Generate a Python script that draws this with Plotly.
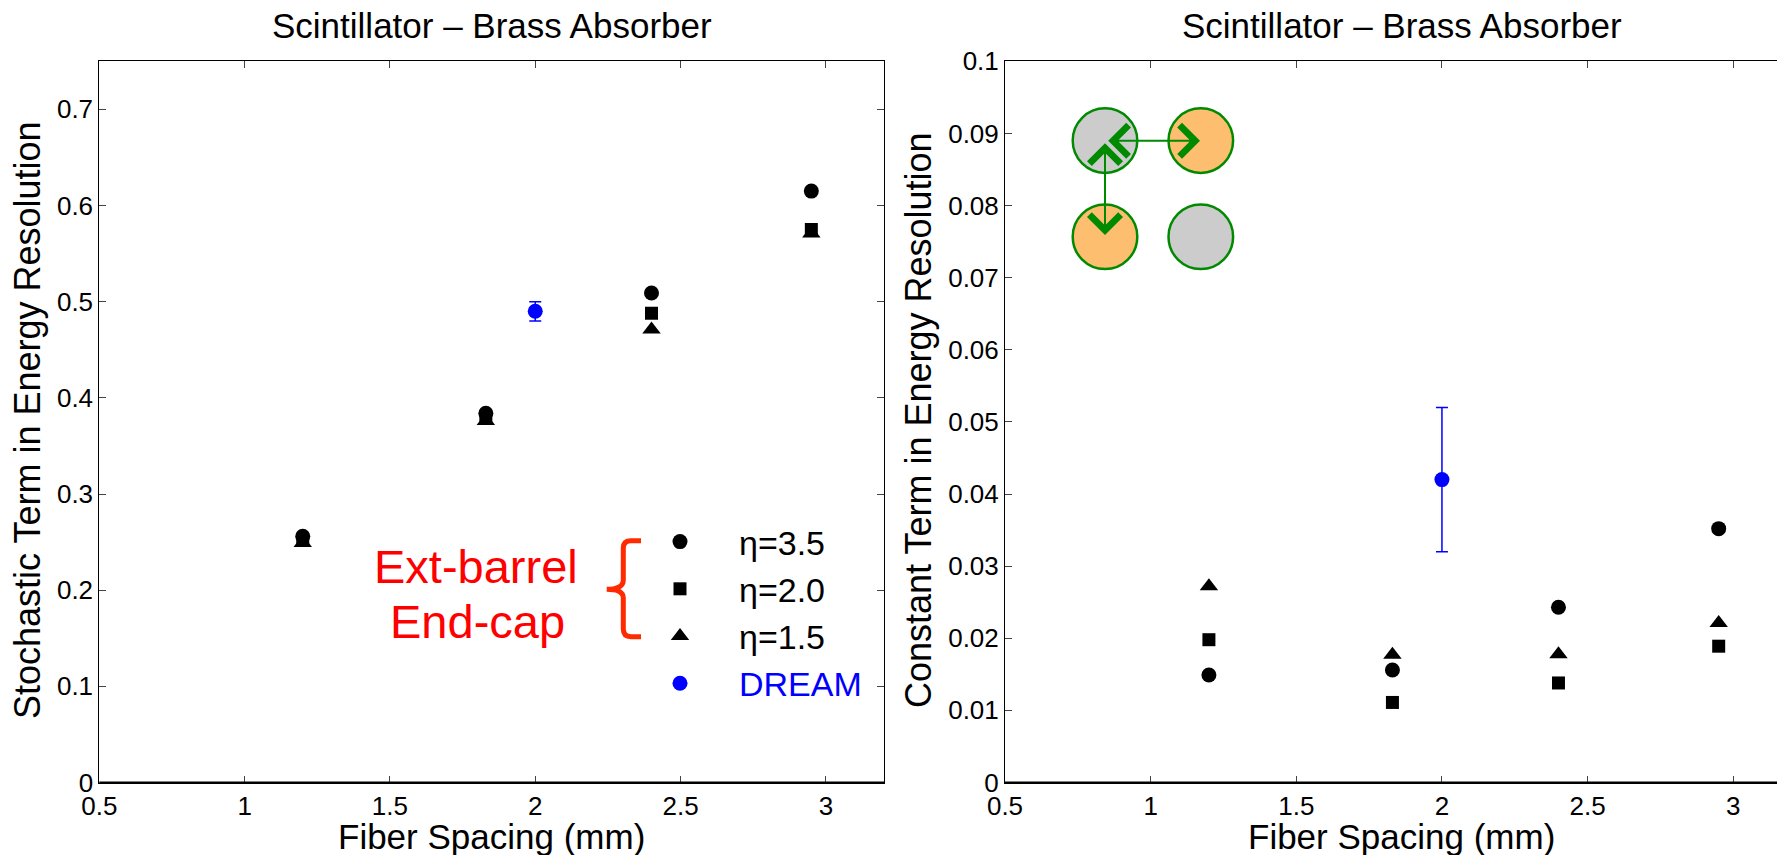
import plotly.graph_objects as go

# ---------------- data ----------------
spacing = [1.2, 1.83, 2.4, 2.95]
series_names = ["η=3.5", "η=2.0", "η=1.5"]
series_symbols = ["circle", "square", "triangle-up"]
series_sizes = [15, 13, 16]

stoch_eta35 = [0.256, 0.384, 0.509, 0.615]
stoch_eta20 = [0.252, 0.380, 0.488, 0.575]
stoch_eta15 = [0.249, 0.376, 0.471, 0.571]

const_eta35 = [0.0149, 0.0156, 0.0243, 0.0352]
const_eta20 = [0.0198, 0.0111, 0.0138, 0.0189]
const_eta15 = [0.0272, 0.0177, 0.0178, 0.0221]

dream_spacing = [2.0]
dream_stoch = [0.49]
dream_stoch_err = [0.01]
dream_const = [0.042]
dream_const_err = [0.010]

x_ticks = [0.5, 1, 1.5, 2, 2.5, 3]
stoch_ticks = [0, 0.1, 0.2, 0.3, 0.4, 0.5, 0.6, 0.7]
const_ticks = [0, 0.01, 0.02, 0.03, 0.04, 0.05, 0.06, 0.07, 0.08, 0.09, 0.1]

FONT = "Liberation Sans, Arial, Helvetica, sans-serif"
# the page body has an 8px margin, so the figure is drawn 8px in from the corner
OFF = 8
W, H = 1785 - OFF, 855 - OFF

fig = go.Figure()

stoch = [stoch_eta35, stoch_eta20, stoch_eta15]
const = [const_eta35, const_eta20, const_eta15]
for name, sym, sz, ys in zip(series_names, series_symbols, series_sizes, stoch):
    fig.add_trace(go.Scatter(x=spacing, y=ys, mode="markers", name=name,
                             marker=dict(symbol=sym, size=sz, color="black"),
                             xaxis="x", yaxis="y", showlegend=True))
fig.add_trace(go.Scatter(x=dream_spacing, y=dream_stoch, mode="markers",
                         name='<span style="color:#0000ff">DREAM</span>',
                         marker=dict(symbol="circle", size=15, color="#0000ff"),
                         error_y=dict(type="data", array=dream_stoch_err, color="#0000ff",
                                      thickness=1.5, width=6),
                         xaxis="x", yaxis="y", showlegend=True))
for name, sym, sz, ys in zip(series_names, series_symbols, series_sizes, const):
    fig.add_trace(go.Scatter(x=spacing, y=ys, mode="markers", name=name,
                             marker=dict(symbol=sym, size=sz, color="black"),
                             xaxis="x2", yaxis="y2", showlegend=False))
fig.add_trace(go.Scatter(x=dream_spacing, y=dream_const, mode="markers", name="DREAM",
                         marker=dict(symbol="circle", size=15, color="#0000ff"),
                         error_y=dict(type="data", array=dream_const_err, color="#0000ff",
                                      thickness=1.5, width=6),
                         xaxis="x2", yaxis="y2", showlegend=False))

# ---------------- layout geometry (screen pixels) ----------------
L_X0, L_X1 = 99.3, 884.0
R_X0, R_X1 = 1005.0, 1785.0
Y_TOP, Y_BOT = 61.3, 782.5
R_PX_PER_UNIT = 291.3
r_xmax = 0.5 + (R_X1 - R_X0) / R_PX_PER_UNIT
r_ymax = 0.1

def px(x):
    return (x - OFF) / W

def py(y):
    return 1 - (y - OFF) / H

axis_common = dict(showline=True, linecolor="black", linewidth=1, ticks="inside",
                   ticklen=7, tickcolor="#444", showgrid=False, zeroline=False,
                   automargin=False,
                   tickfont=dict(family=FONT, size=26, color="black"))

fig.update_layout(
    width=W, height=H, margin=dict(l=0, r=0, t=0, b=0, autoexpand=False),
    paper_bgcolor="white", plot_bgcolor="white",
    font=dict(family=FONT, color="black"),
    xaxis=dict(domain=[px(L_X0), px(L_X1)], range=[0.5, 3.2], tickvals=x_ticks,
               anchor="y", mirror="ticks", **axis_common),
    yaxis=dict(domain=[py(Y_BOT), py(Y_TOP)], range=[0, 0.75], tickvals=stoch_ticks,
               anchor="x", mirror="ticks", **axis_common),
    xaxis2=dict(domain=[px(R_X0), 1.0], range=[0.5, r_xmax], tickvals=x_ticks,
                anchor="y2", mirror="ticks", **axis_common),
    yaxis2=dict(domain=[py(Y_BOT), py(Y_TOP)], range=[0, r_ymax], tickvals=const_ticks,
                anchor="x2", mirror=False, **axis_common),
    legend=dict(x=px(621), y=py(513), xanchor="left", yanchor="top",
                font=dict(family=FONT, size=34, color="black"),
                itemwidth=108, bgcolor="rgba(0,0,0,0)", borderwidth=0,
                itemclick=False, itemdoubleclick=False),
)

# thicker bottom axis lines
for x0, x1 in [(L_X0, L_X1), (R_X0, R_X1)]:
    fig.add_shape(type="line", xref="paper", yref="paper", x0=px(x0), x1=min(px(x1), 1.0),
                  y0=py(Y_BOT), y1=py(Y_BOT), line=dict(color="black", width=2.2))

# titles and axis titles
ann = []
for cx in [492.3, 1402.4]:
    ann.append(dict(text="Scintillator – Brass Absorber", x=px(cx), y=py(25.8),
                    font=dict(size=35)))
for cx in [491.4, 1401.7]:
    ann.append(dict(text="Fiber Spacing (mm)", x=px(cx), y=py(836.5), font=dict(size=35)))
ann.append(dict(text="Stochastic Term in Energy Resolution", x=px(27), y=py(420),
                textangle=-90, font=dict(size=36)))
ann.append(dict(text="Constant Term in Energy Resolution", x=px(918), y=py(420),
                textangle=-90, font=dict(size=36)))
ann.append(dict(text="Ext-barrel", x=px(475.7), y=py(566), font=dict(size=47, color="#ff0000")))
ann.append(dict(text="End-cap", x=px(477.7), y=py(621), font=dict(size=47, color="#ff0000")))
for a in ann:
    a.update(xref="paper", yref="paper", xanchor="center", yanchor="middle", showarrow=False)
    a["font"] = dict(family=FONT, color=a["font"].get("color", "black"), size=a["font"]["size"])
    fig.add_annotation(**a)

# red brace
def P(x, y):
    return f"{px(x):.5f},{py(y):.5f}"

brace = (f"M {P(641, 540.7)} L {P(631, 540.7)} Q {P(623.3, 540.7)} {P(623.3, 548)} "
         f"L {P(623.3, 580)} Q {P(623.3, 589.3)} {P(606.7, 589.3)} "
         f"Q {P(623.3, 589.3)} {P(623.3, 598)} L {P(623.3, 629)} "
         f"Q {P(623.3, 636.7)} {P(631, 636.7)} L {P(641, 636.7)}")
fig.add_shape(type="path", path=brace, xref="paper", yref="paper",
              line=dict(color="#ff2a00", width=5))

# inset fiber diagram (right panel)
def rx(x):
    return 0.5 + (x - R_X0) / R_PX_PER_UNIT

def ry(y):
    return (Y_BOT - y) / ((Y_BOT - Y_TOP) / r_ymax)

GREEN = "#008a00"
GRAY = "#cccccc"
ORANGE = "#fdbf6f"
R = 32.3
for cx, cy, col in [(1105, 140.6, GRAY), (1200.8, 140.6, ORANGE),
                    (1105, 236.7, ORANGE), (1200.8, 236.7, GRAY)]:
    fig.add_shape(type="circle", xref="x2", yref="y2",
                  x0=rx(cx - R), x1=rx(cx + R), y0=ry(cy + R), y1=ry(cy - R),
                  fillcolor=col, line=dict(color=GREEN, width=2.5), layer="above")

for (hx, hy), (tx, ty) in [((1200.0, 140.7), (1106.7, 140.7)),
                           ((1105.0, 235.0), (1105.0, 141.7))]:
    fig.add_annotation(x=rx(hx), y=ry(hy), ax=rx(tx), ay=ry(ty), xref="x2", yref="y2",
                       axref="x2", ayref="y2", text="", showarrow=True,
                       arrowhead=4, startarrowhead=4, arrowside="end+start",
                       arrowsize=3, startarrowsize=3, arrowwidth=2, arrowcolor=GREEN)

fig.write_html("out.html")
